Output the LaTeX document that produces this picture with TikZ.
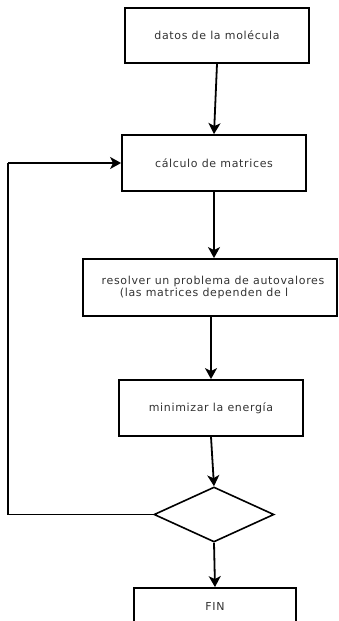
\documentclass[tikz,border=0pt]{standalone}
\usepackage{fontspec}
\setmainfont{DejaVu Sans}[LetterSpace=6]
\usetikzlibrary{shapes.geometric,arrows.meta}
\begin{document}
\begin{tikzpicture}[x=1pt,y=-1pt,
  every node/.style={font=\fontsize{11}{13}\selectfont, text=black!80},
  procbox/.style={draw=black, line width=1.8pt, inner sep=0pt, minimum height=56pt},
  decision/.style={draw=black, line width=1.6pt, shape=diamond, inner sep=0pt,
                   minimum width=120pt, minimum height=55pt},
  flow/.style={draw=black, line width=1.8pt, -{Stealth[length=11pt,width=12pt,inset=3pt]}},
  loopline/.style={draw=black, line width=1.8pt}]
  \fill[white] (0,0) rectangle (338,621);
  \useasboundingbox (0,0) rectangle (338,621);
  \clip (0,0) rectangle (338,621);

  % process steps
  \node[procbox, minimum width=184pt, minimum height=55pt] (datos) at (217,35.5) {datos de la molécula};
  \node[procbox, minimum width=184pt] (calc) at (214,163) {cálculo de matrices};
  \node[procbox, minimum width=254pt, minimum height=57pt] (autov) at (210,287.5) {};
  \node (autovA) at (213,281.5) {resolver un problema de autovalores};
  \node (autovB) at (204,293.5) {(las matrices dependen de l};
  \node[procbox, minimum width=184pt] (minE) at (211,408) {};
  \node (minEtext) at (211,408) {minimizar la energía};
  \node[decision] (dec) at (214,514.5) {};
  \node[procbox, minimum width=162pt] (fin) at (215,616) {};
  \node (fintext) at (215,606) {FIN};

  % connectors
  \draw[flow] (datos.south) -- (calc.north);
  \draw[flow] (calc.south) -- (calc.south |- autov.north);
  \draw[flow] (minE.north |- autov.south) -- (minE.north);
  \draw[flow] (minE.south) -- (dec.north);
  \draw[flow] (dec.south) -- (fin.north);

  % feedback loop back to the matrix step
  \coordinate (loopTop) at (8,163);
  \draw[loopline] (dec.west) -| (loopTop);
  \draw[flow] (loopTop) -- (calc.west);
\end{tikzpicture}
\end{document}
